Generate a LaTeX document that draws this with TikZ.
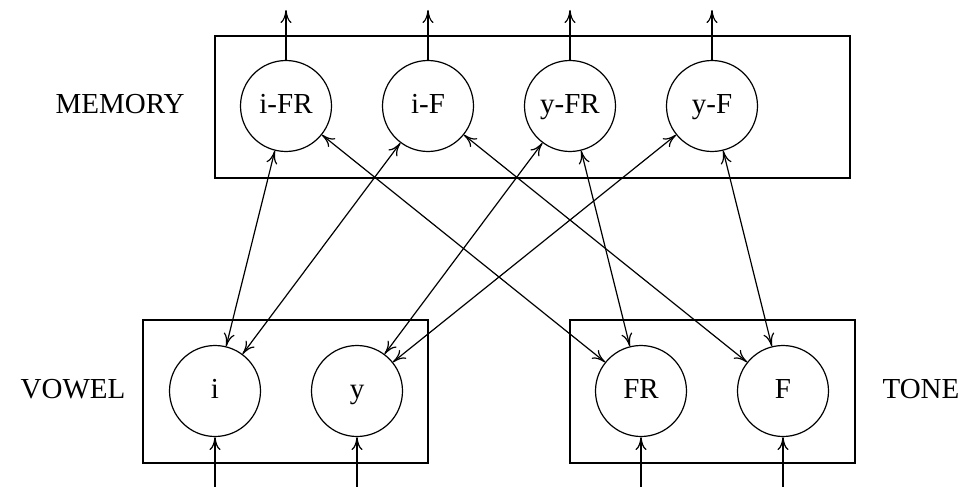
\documentclass[tikz,border=0pt]{standalone}
\usepackage{fontspec}
\setmainfont{Liberation Serif}
\usetikzlibrary{arrows.meta}
\begin{document}
\begin{tikzpicture}[x=1pt,y=-1pt,
  unit/.style={circle,draw,line width=1.2pt,minimum size=91pt,inner sep=0pt,text height=20pt,text depth=5pt,font=\fontsize{29}{34}\selectfont},
  grp/.style={draw,line width=1.2pt},
  lbl/.style={text height=20pt,text depth=5pt,font=\fontsize{29}{34}\selectfont},
  tip/.style={line width=1.2pt,-{To[length=13pt,width=11pt]}},
  both/.style={line width=1.2pt,{To[length=13pt,width=11pt]}-{To[length=13pt,width=11pt]}}]
\useasboundingbox (0,0) rectangle (962,487);
\draw[grp] (215,36) rectangle (850,178);
\draw[grp] (143,320) rectangle (428,463);
\draw[grp] (570,320) rectangle (855,463);
\node[unit] (ifr) at (286,106) {i-FR};
\node[unit] (if) at (428,106) {i-F};
\node[unit] (yfr) at (570,106) {y-FR};
\node[unit] (yf) at (712,106) {y-F};
\node[unit] (i) at (215,391) {i};
\node[unit] (y) at (357,391) {y};
\node[unit] (fr) at (641,391) {FR};
\node[unit] (f) at (783,391) {F};
\node[lbl] (mem) at (120,106) {MEMORY};
\node[lbl] (vow) at (73,391) {VOWEL};
\node[lbl] (tone) at (921,391) {TONE};
\foreach \n in {ifr,if,yfr,yf}{
  \coordinate (o\n) at ([yshift=96pt]\n.center);
  \draw[tip] (\n.north) -- (o\n);
}
\foreach \n in {i,y,fr,f}{
  \coordinate (s\n) at ([yshift=-96pt]\n.center);
  \draw[tip] (s\n) -- (\n.south);
}
\draw[both] (ifr) -- (i);
\draw[both] (if) -- (i);
\draw[both] (ifr) -- (fr);
\draw[both] (yfr) -- (y);
\draw[both] (yfr) -- (fr);
\draw[both] (yf) -- (y);
\draw[both] (if) -- (f);
\draw[both] (yf) -- (f);
\end{tikzpicture}
\end{document}
